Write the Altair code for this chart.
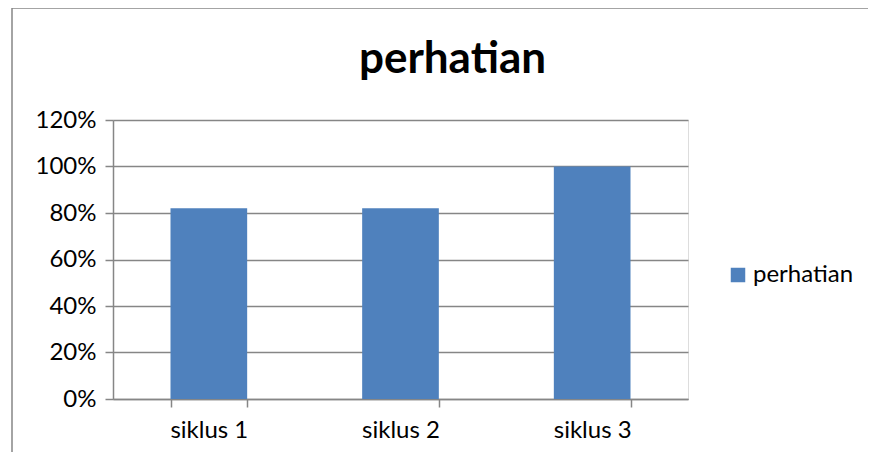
import altair as alt
import pandas as pd

categories = ["siklus 1", "siklus 2", "siklus 3"]
values = [0.82, 0.82, 1.00]
series = "perhatian"

df = pd.DataFrame({"siklus": categories, "nilai": values, "seri": [series] * 3})

FONT = "Lato"
GRAY = "#868686"

border = alt.Chart(pd.DataFrame({"a": [0]})).mark_rect(
    fill=None, stroke=GRAY, strokeWidth=1.5, clip=False
).encode(
    x=alt.value(-101), x2=alt.value(900), y=alt.value(-112), y2=alt.value(500)
)

bars = alt.Chart(df).mark_bar(color="#4F81BD").encode(
    x=alt.X(
        "siklus:N",
        sort=categories,
        title=None,
        scale=alt.Scale(paddingInner=0.6, paddingOuter=0.3),
        axis=alt.Axis(
            labelAngle=0, tickBand="extent", tickSize=8, tickColor=GRAY,
            domainColor=GRAY, domainWidth=1.5, tickWidth=1.5,
            labelFont=FONT, labelFontSize=24, labelColor="#000000",
            labelPadding=11, grid=False,
        ),
    ),
    y=alt.Y(
        "nilai:Q",
        title=None,
        scale=alt.Scale(domain=[0, 1.2], nice=False),
        axis=alt.Axis(
            values=[0, 0.2, 0.4, 0.6, 0.8, 1.0, 1.2], format=".0%",
            tickSize=8, tickColor=GRAY, tickWidth=1.5,
            domainColor=GRAY, domainWidth=1.5,
            gridColor=GRAY, gridWidth=1.5,
            labelFont=FONT, labelFontSize=24, labelColor="#000000",
            labelPadding=9,
        ),
    ),
    fill=alt.Fill(
        "seri:N",
        scale=alt.Scale(range=["#4F81BD"]),
        legend=alt.Legend(
            title=None, orient="none", legendX=613, legendY=143,
            symbolType="square", symbolSize=210, symbolStrokeWidth=0,
            labelFont=FONT, labelFontSize=24, labelColor="#000000",
            labelOffset=3,
        ),
    ),
)

chart = alt.layer(border, bars).properties(
    width=575,
    height=279,
    title=alt.TitleParams(
        "perhatian", font=FONT, fontSize=44, fontWeight="bold",
        color="#000000", anchor="middle", offset=0, dy=75, dx=52,
    ),
    autosize=alt.AutoSizeParams(type="none"),
    padding={"left": 105, "top": 112, "right": 180, "bottom": 53},
).configure_view(stroke=None).configure(background="white")

chart.save("out.html", embed_options={"renderer": "svg", "actions": False})
